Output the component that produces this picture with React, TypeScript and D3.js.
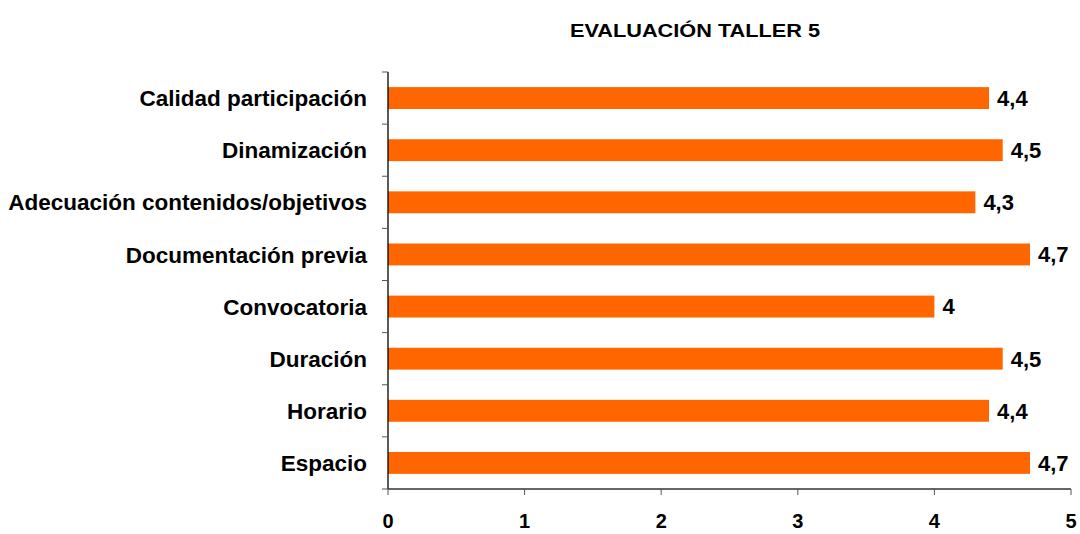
import React from "react";
import * as d3 from "d3";

// categories top to bottom
const categories = [
  "Calidad participación",
  "Dinamización",
  "Adecuación contenidos/objetivos",
  "Documentación previa",
  "Convocatoria",
  "Duración",
  "Horario",
  "Espacio",
];
const values = [4.4, 4.5, 4.3, 4.7, 4, 4.5, 4.4, 4.7];
const xTicks = [0, 1, 2, 3, 4, 5];
const title = "EVALUACIÓN TALLER 5";

const W = 1080;
const H = 534;
const left = 388;
const right = 1071;
const top = 72;
const bottom = 489;
const font = "'Liberation Sans', Arial, sans-serif";

const fmt = (v: number) => String(v).replace(".", ",");

export default function App() {
  const x = d3.scaleLinear().domain([0, 5]).range([left, right]);
  const y = d3
    .scaleBand<string>()
    .domain(categories)
    .range([top, bottom])
    .paddingInner(0.58)
    .paddingOuter(0.29);

  const bandTicks = d3.range(categories.length + 1).map((i) => top + (bottom - top) * (i / categories.length));

  return (
    <svg
      width={W}
      height={H}
      style={{ position: "absolute", left: 0, top: 0, background: "#fff" }}
      fontFamily={font}
    >
      <text x={695} y={37} textAnchor="middle" fontSize={19} fontWeight="bold" fill="#000" textLength={250} lengthAdjust="spacingAndGlyphs">
        {title}
      </text>

      {categories.map((c, i) => (
        <g key={c}>
          <rect
            x={x(0)}
            y={y(c)!}
            width={x(values[i]) - x(0)}
            height={y.bandwidth()}
            fill="#FF6600"
          />
          <text
            x={x(values[i]) + 8}
            y={y(c)! + y.bandwidth() / 2}
            dy="0.36em"
            fontSize={22}
            fontWeight="bold"
            fill="#000"
          >
            {fmt(values[i])}
          </text>
          <text
            x={367}
            y={y(c)! + y.bandwidth() / 2}
            dy="0.36em"
            textAnchor="end"
            fontSize={22.5}
            fontWeight="bold"
            fill="#000"
          >
            {c}
          </text>
        </g>
      ))}

      {/* y axis */}
      <line x1={left} x2={left} y1={top} y2={bottom} stroke="#000" strokeWidth={1.3} />
      {bandTicks.map((t, i) => (
        <line key={i} x1={left - 6} x2={left} y1={t} y2={t} stroke="#555" strokeWidth={1} />
      ))}

      {/* x axis */}
      <line x1={left} x2={right} y1={bottom} y2={bottom} stroke="#333" strokeWidth={1.3} />
      {xTicks.map((t) => (
        <g key={t}>
          <line x1={x(t)} x2={x(t)} y1={bottom} y2={bottom + 6} stroke="#555" strokeWidth={1} />
          <text x={x(t)} y={528} textAnchor="middle" fontSize={20} fontWeight="bold" fill="#000">
            {t}
          </text>
        </g>
      ))}
    </svg>
  );
}
